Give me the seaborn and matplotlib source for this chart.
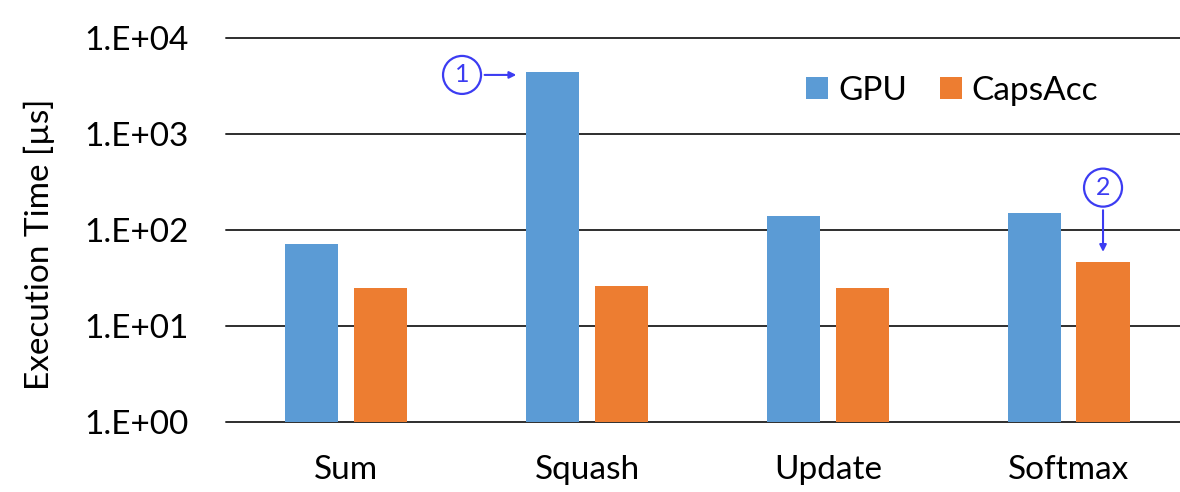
import matplotlib
matplotlib.use("Agg")
import matplotlib.pyplot as plt
import pandas as pd
import seaborn as sns
from matplotlib.ticker import FixedLocator, NullLocator

# Execution time per routing kernel (microseconds)
kernels = ["Sum", "Squash", "Update", "Softmax"]
platforms = ["GPU", "CapsAcc"]
gpu_us = [71, 4430, 140, 151]
capsacc_us = [24.6, 26.2, 24.6, 46.6]
ytick_values = [1, 10, 100, 1000, 10000]
ytick_labels = ["1.E+00", "1.E+01", "1.E+02", "1.E+03", "1.E+04"]

df = pd.DataFrame({
    "Kernel": kernels * 2,
    "Platform": [platforms[0]] * len(kernels) + [platforms[1]] * len(kernels),
    "Time": gpu_us + capsacc_us,
})

sns.set_theme(style="white")
plt.rcParams["font.family"] = ["Lato", "DejaVu Sans"]
plt.rcParams["text.color"] = "black"

palette = {"GPU": "#5B9BD5", "CapsAcc": "#ED7D31"}
note_color = "#3C3CF2"

fig = plt.figure(figsize=(11.8, 4.92), dpi=100)
ax = fig.add_axes([0.1915, 0.1429, 0.8085, 0.7799])
ax.set_yscale("log", nonpositive="clip")

sns.barplot(data=df, x="Kernel", y="Time", hue="Platform", order=kernels,
            hue_order=platforms, palette=palette, width=0.573, gap=0.23,
            linewidth=0, saturation=1, ax=ax)

ax.set_yscale("log", nonpositive="clip")
ax.set_ylim(1, 1e4)
ax.set_xlim(-0.5, 3.463)
ax.yaxis.set_major_locator(FixedLocator(ytick_values))
ax.yaxis.set_minor_locator(NullLocator())
ax.set_yticklabels(ytick_labels)
ax.set_axisbelow(True)
ax.yaxis.grid(True, color="#2e2e2e", lw=1.4)
ax.xaxis.grid(False)
for gl in ax.get_ygridlines():
    gl.set_clip_on(False)
for s in ax.spines.values():
    s.set_visible(False)

ax.tick_params(axis="y", length=0, pad=27, labelsize=24, labelcolor="black")
ax.tick_params(axis="x", length=0, pad=24, labelsize=24, labelcolor="black")
ax.set_xlabel("")
ax.set_ylabel("")
fig.text(39 / 1180, 1 - 244 / 492, "Execution Time [µs]", rotation=90,
         ha="center", va="center", fontsize=24, color="black")

ax.legend(loc="center", bbox_to_anchor=(0.807, 0.815),
          bbox_transform=fig.transFigure, ncol=2, frameon=False,
          fontsize=24, handlelength=0.65, handleheight=0.65,
          handletextpad=0.3, columnspacing=1.0, borderpad=0)

# Callouts
squash_gpu = ax.containers[0][1]
ax.annotate("1", xy=(squash_gpu.get_x(), squash_gpu.get_y() + squash_gpu.get_height() * 0.93),
            xytext=(-64, 0), textcoords="offset pixels",
            ha="center", va="center", fontsize=18, color=note_color,
            bbox=dict(boxstyle="circle,pad=0.3", fc="none", ec=note_color, lw=1.6),
            arrowprops=dict(arrowstyle="-|>", color=note_color, lw=1.5,
                            shrinkB=7, mutation_scale=10))

softmax_caps = ax.containers[1][3]
ax.annotate("2", xy=(softmax_caps.get_x() + softmax_caps.get_width() / 2,
                     softmax_caps.get_y() + softmax_caps.get_height()),
            xytext=(0, 74), textcoords="offset pixels",
            ha="center", va="center", fontsize=18, color=note_color,
            bbox=dict(boxstyle="circle,pad=0.3", fc="none", ec=note_color, lw=1.6),
            arrowprops=dict(arrowstyle="-|>", color=note_color, lw=1.5,
                            shrinkB=7, mutation_scale=10))

fig.savefig("out.png", dpi=100)
